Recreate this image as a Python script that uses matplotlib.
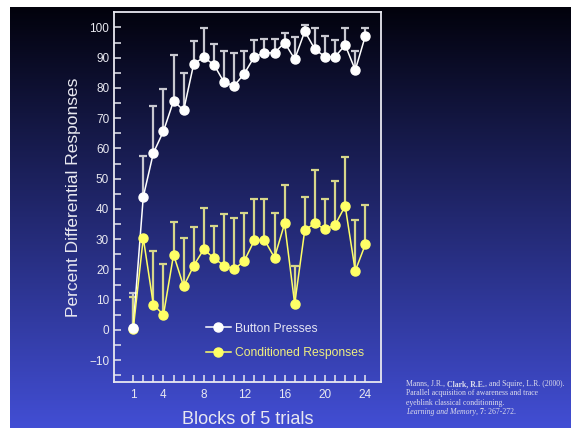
import numpy as np
import matplotlib
matplotlib.use("Agg")
import matplotlib.pyplot as plt
from matplotlib.lines import Line2D

plt.rcParams['font.family'] = ['Liberation Sans', 'DejaVu Sans']

blocks = list(range(1, 25))
button_mean = [0.8, 44, 58.5, 65.7, 75.7, 72.6, 88.0, 90.1, 87.7, 81.9, 80.7, 84.7,
               90.3, 91.6, 91.6, 95.0, 89.5, 98.7, 92.8, 90.3, 90.3, 94.2, 85.9, 97.2]
button_upper = [12.1, 57.6, 73.9, 79.8, 90.8, 84.9, 95.4, 99.8, 94.6, 92.1, 91.6, 92.1,
                95.8, 96.3, 96.3, 98.3, 96.8, 100.8, 99.8, 97.2, 95.9, 99.8, 92.1, 99.8]
cr_mean = [0.2, 30.4, 8.4, 5.0, 24.9, 14.4, 21.3, 26.7, 23.7, 21.3, 20.1, 22.8,
           29.6, 29.8, 23.9, 35.2, 8.6, 33.1, 35.2, 33.3, 34.7, 41.0, 19.5, 28.3]
cr_upper = [11.0, 30.4, 26.2, 21.9, 35.6, 30.5, 33.9, 40.4, 34.5, 38.2, 36.9, 38.6,
            43.2, 43.2, 38.6, 47.9, 21.0, 44.1, 52.9, 43.2, 49.2, 57.2, 36.5, 41.3]
xtick_labels = [1, 4, 8, 12, 16, 20, 24]
ytick_labels = list(range(-10, 101, 10))

W, H = 571, 428
fig = plt.figure(figsize=(W / 100, H / 100), dpi=100)
fig.patch.set_facecolor('white')

# gradient background
bg = fig.add_axes([10 / W, 0, (W - 10) / W, (H - 7) / H])
top = np.array([2, 2, 12]) / 255
bot = np.array([66, 78, 212]) / 255
t = np.linspace(0, 1, 256)[:, None]
grad = top[None, :] * (1 - t) + bot[None, :] * t
bg.imshow(grad[:, None, :], aspect='auto', extent=[0, 1, 0, 1])
bg.set_axis_off()
bg.set_zorder(-5)

ax = fig.add_axes([114 / W, (H - 382) / H, (381 - 114) / W, (382 - 12) / H])
ax.set_facecolor('none')

x = np.array(blocks)
bm = np.array(button_mean); bu = np.array(button_upper)
cm = np.array(cr_mean); cu = np.array(cr_upper)

ax.errorbar(x, bm, yerr=[np.zeros_like(bm), bu - bm], fmt='none', ecolor='#c8c8d0',
            elinewidth=1.6, capsize=3.2, capthick=1.6, zorder=1)
ax.errorbar(x, cm, yerr=[np.zeros_like(cm), np.maximum(cu - cm, 0)], fmt='none', ecolor='#d6d68a',
            elinewidth=1.6, capsize=3.2, capthick=1.6, zorder=1.5)
ax.plot(x, bm, color='white', lw=1.1, zorder=2)
ax.plot(x, cm, color='#ffff66', lw=1.1, zorder=3)
ax.plot(x, cm, 'o', color='#ffff66', ms=6.5, mec='#ffff66', zorder=4)
ax.plot(x, bm, 'o', color='white', ms=6.5, mec='white', zorder=5)

ax.set_xlim(-0.9, 25.55)
ax.set_ylim(-17.2, 105.1)
ax.set_xticks(blocks, minor=True)
ax.set_xticks(xtick_labels)
ax.set_yticks(ytick_labels)
ax.set_yticks(np.arange(-15, 105, 5), minor=True)
ax.tick_params(axis='both', which='both', direction='in', color='#e8e8f0', width=1.1)
ax.tick_params(axis='both', which='major', length=5, labelsize=8.5, labelcolor='#e8e8f0')
ax.tick_params(axis='both', which='minor', length=5)
ax.tick_params(axis='x', pad=5)
ax.tick_params(axis='y', pad=3.5)
for s in ax.spines.values():
    s.set_color('#e8e8f0')
    s.set_linewidth(1.3)

ax.set_ylabel('Percent Differential Responses', color='#e8e8f0', fontsize=12.5, labelpad=6)
ax.set_xlabel('Blocks of 5 trials', color='#e8e8f0', fontsize=13, labelpad=7)

handles = [Line2D([], [], color='white', marker='o', ms=6.5, lw=1.1),
           Line2D([], [], color='#ffff66', marker='o', ms=6.5, lw=1.1)]
leg = ax.legend(handles, ['Button Presses', 'Conditioned Responses'], frameon=False,
                loc='upper left', bbox_to_anchor=(206 / W, 1 - 322.5 / H),
                bbox_transform=fig.transFigure, borderpad=0, borderaxespad=0,
                handlelength=2.05, handletextpad=0.35, labelspacing=1.05, fontsize=8.7)
for txt, c in zip(leg.get_texts(), ['#e6e6f4', '#eeee80']):
    txt.set_color(c)

# citation
cc = '#dcdcec'
fs = 5.6
lines = [
    [("Manns, J.R., ", 'normal', 'normal'), ("Clark, R.E.", 'bold', 'normal'),
     (", and Squire, L.R. (2000).", 'normal', 'normal')],
    [("Parallel acquisition of awareness and trace", 'normal', 'normal')],
    [("eyeblink classical conditioning.", 'normal', 'normal')],
    [("Learning and Memory", 'normal', 'italic'), (", ", 'normal', 'normal'),
     ("7", 'bold', 'normal'), (": 267-272.", 'normal', 'normal')],
]
y0 = 384
for i, parts in enumerate(lines):
    yy = 1 - (y0 + i * 9.4) / H
    prev = None
    for (s, wgt, sty) in parts:
        kw = dict(color=cc, fontsize=fs, fontweight=wgt, fontstyle=sty,
                  family=['Liberation Serif', 'DejaVu Serif'], va='center', ha='left')
        if prev is None:
            prev = fig.text(406 / W, yy, s, **kw)
        else:
            prev = ax.annotate(s, xy=(1, 0.5), xycoords=prev, annotation_clip=False, **kw)

fig.savefig('out.png', dpi=100)
